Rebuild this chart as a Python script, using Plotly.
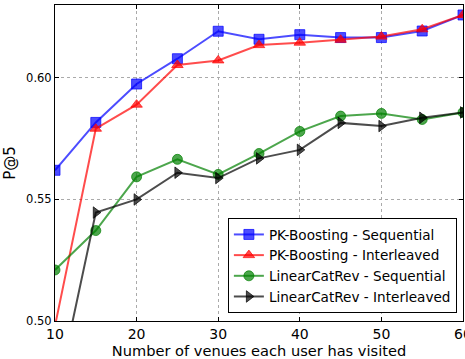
import plotly.graph_objects as go

x_vals = [10, 15, 20, 25, 30, 35, 40, 45, 50, 55, 60]
pk_seq = [0.562, 0.5817, 0.5975, 0.6079, 0.6192, 0.6159, 0.6178, 0.6166, 0.6166, 0.6193, 0.6259]
pk_int = [0.498, 0.5791, 0.589, 0.6053, 0.6072, 0.6135, 0.6145, 0.6157, 0.617, 0.620, 0.6259]
lcr_seq = [0.521, 0.5372, 0.5593, 0.5665, 0.5603, 0.5689, 0.578, 0.5843, 0.5854, 0.5829, 0.5858]
lcr_int = [0.466, 0.5446, 0.550, 0.561, 0.5588, 0.5669, 0.5704, 0.5815, 0.5802, 0.5836, 0.5858]
x_ticks = [10, 20, 30, 40, 50, 60]
y_ticks = [0.50, 0.55, 0.60]
y_tick_text = ["0.50", "0.55", "0.60"]

series = [
    ("PK-Boosting - Sequential", pk_seq, "rgba(0,0,255,0.7)", "square"),
    ("PK-Boosting - Interleaved", pk_int, "rgba(255,0,0,0.7)", "triangle-up"),
    ("LinearCatRev - Sequential", lcr_seq, "rgba(0,128,0,0.7)", "circle"),
    ("LinearCatRev - Interleaved", lcr_int, "rgba(0,0,0,0.7)", "triangle-right"),
]

fig = go.Figure()
for name, ys, col, sym in series:
    fig.add_trace(go.Scatter(
        x=x_vals, y=ys, name=name, mode="lines+markers",
        line=dict(color=col, width=2),
        marker=dict(symbol=sym, size=10, color=col, line=dict(color=col, width=1)),
        cliponaxis=True,
    ))

font = "DejaVu Sans, sans-serif"
fig.update_layout(
    width=465, height=359,
    margin=dict(l=55, r=2, t=5, b=38),
    paper_bgcolor="white", plot_bgcolor="white",
    font=dict(family=font, size=13, color="black"),
    showlegend=True,
    legend=dict(
        x=0.985, y=0.025, xanchor="right", yanchor="bottom",
        bordercolor="black", borderwidth=1, bgcolor="white",
        font=dict(family=font, size=13.6), tracegroupgap=0, itemwidth=30,
    ),
    xaxis=dict(
        range=[10, 60], tickmode="array", tickvals=x_ticks,
        ticktext=[str(v) for v in x_ticks], ticklabeloverflow="allow",
        ticks="inside", ticklen=4, tickcolor="black",
        showline=True, linecolor="black", linewidth=1, mirror="ticks",
        showgrid=True, gridcolor="#aaaaaa", griddash="dot", gridwidth=1,
        zeroline=False, automargin=False,
        title=dict(text="Number of venues each user has visited", font=dict(size=14.6), standoff=2),
        tickfont=dict(size=14),
    ),
    yaxis=dict(
        range=[0.50, 0.63], tickmode="array", tickvals=y_ticks,
        ticktext=y_tick_text,
        ticks="inside", ticklen=4, tickcolor="black",
        showline=True, linecolor="black", linewidth=1, mirror="ticks",
        showgrid=True, gridcolor="#aaaaaa", griddash="dot", gridwidth=1,
        zeroline=False, automargin=False,
        title=dict(text="P@5", font=dict(size=15), standoff=6),
        tickfont=dict(size=11.5),
    ),
)

fig.write_html("out.html", config={"displayModeBar": False},
               post_script="document.body.style.margin='0';")
